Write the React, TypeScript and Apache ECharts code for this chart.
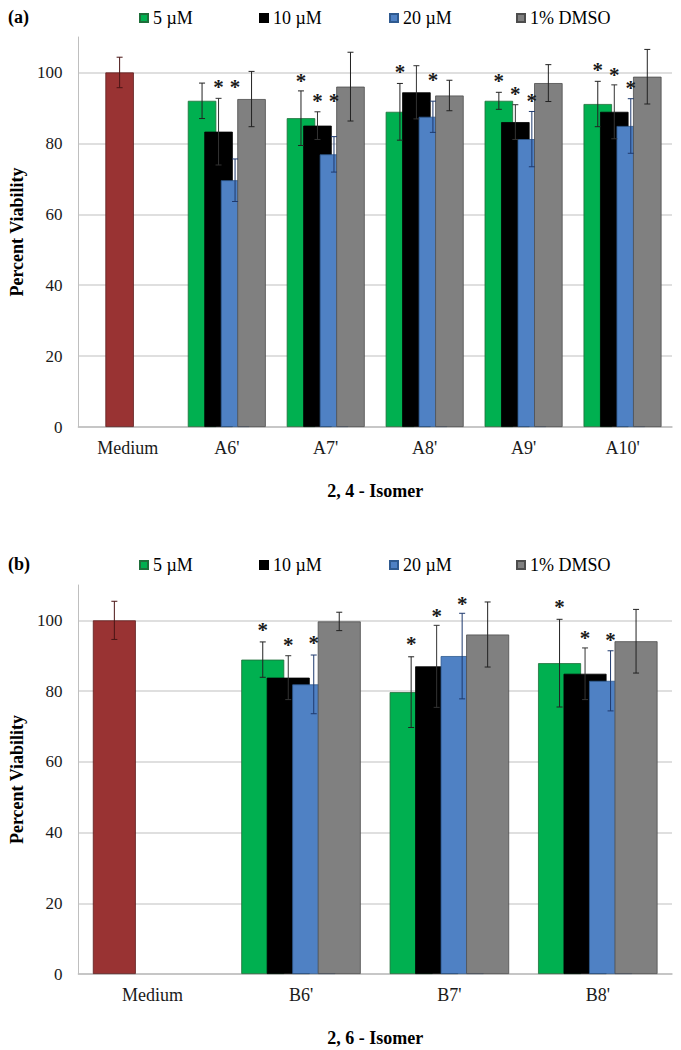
import React, { useEffect, useRef } from "react";
import * as echarts from "echarts";

// ---------- DATA ----------
const SERIES_NAMES = ["5 µM", "10 µM", "20 µM", "1% DMSO"];

// Panel (a): 2,4 - Isomer
const CATEGORIES_A = ["Medium", "A6'", "A7'", "A8'", "A9'", "A10'"];
const MEDIUM_A = 100;
const MEDIUM_A_ERR = 4.3;
const A_5UM = [null, 92.0, 87.1, 88.9, 92.0, 91.1];
const A_10UM = [null, 83.3, 85.0, 94.4, 86.0, 88.9];
const A_20UM = [null, 69.6, 76.9, 87.5, 81.2, 84.9];
const A_DMSO = [null, 92.5, 96.0, 93.5, 97.0, 98.8];
const A_5UM_ERR = [null, 5.0, 7.7, 8.0, 2.4, 6.4];
const A_10UM_ERR = [null, 9.4, 3.9, 7.5, 4.9, 7.6];
const A_20UM_ERR = [null, 6.0, 5.0, 4.4, 7.8, 7.7];
const A_DMSO_ERR = [null, 7.8, 9.7, 4.3, 5.2, 7.7];
// asterisk (significance mark) heights
const A_STAR_5UM = [null, null, 98.4, 101.0, 98.4, 101.6];
const A_STAR_10UM = [null, 96.7, 92.7, null, 94.9, 100.2];
const A_STAR_20UM = [null, 96.7, 92.7, 98.8, 92.8, 96.5];
const A_STAR_DMSO = [null, null, null, null, null, null];

// Panel (b): 2,6 - Isomer
const CATEGORIES_B = ["Medium", "B6'", "B7'", "B8'"];
const MEDIUM_B = 100;
const MEDIUM_B_ERR = 5.4;
const B_5UM = [null, 88.9, 79.7, 87.9];
const B_10UM = [null, 83.8, 87.0, 84.9];
const B_20UM = [null, 81.9, 89.9, 82.9];
const B_DMSO = [null, 99.7, 96.0, 94.1];
const B_5UM_ERR = [null, 5.0, 10.0, 12.4];
const B_10UM_ERR = [null, 6.2, 11.6, 7.3];
const B_20UM_ERR = [null, 8.3, 12.1, 8.5];
const B_DMSO_ERR = [null, 2.6, 9.2, 9.0];
const B_STAR_5UM = [null, 98.1, 94.1, 104.7];
const B_STAR_10UM = [null, 93.9, 102.1, 96.0];
const B_STAR_20UM = [null, 94.4, 105.6, 95.3];
const B_STAR_DMSO = [null, null, null, null];

const Y_TICKS_MIN = 0;
const Y_TICKS_MAX = 110;
const Y_TICK_STEP = 20;

// ---------- STYLE ----------
const FONT = '"Liberation Serif", "Times New Roman", serif';
const BAR_COLORS = ["#00b050", "#000000", "#4f81c4", "#808080"];
const BAR_BORDERS = ["#1f6e3a", "#000000", "#2f5a90", "#4d4d4d"];
const ERR_COLORS = ["#222222", "#333333", "#1f3a6e", "#222222"];
const MEDIUM_COLOR = "#993333";
const MEDIUM_BORDER = "#5e1e1e";
const MEDIUM_ERR_COLOR = "#4a1515";
const CAP = 3;
const STAR_SHIFT = 3;

type Panel = {
  cats: string[];
  values: (number | null)[][];
  errors: (number | null)[][];
  stars: (number | null)[][];
  medium: number;
  mediumErr: number;
  mediumSlot: number;
  barWidth: number;
  gapFrac: number;
  grid: { left: number; right: number; top: number; height: number };
  label: string;
  labelTop: number;
  legendTop: number;
  legendLefts: number[];
  title: string;
};

const PANELS: Panel[] = [
  {
    cats: CATEGORIES_A,
    values: [A_5UM, A_10UM, A_20UM, A_DMSO],
    errors: [A_5UM_ERR, A_10UM_ERR, A_20UM_ERR, A_DMSO_ERR],
    stars: [A_STAR_5UM, A_STAR_10UM, A_STAR_20UM, A_STAR_DMSO],
    medium: MEDIUM_A,
    mediumErr: MEDIUM_A_ERR,
    mediumSlot: 1,
    barWidth: 28.5,
    gapFrac: -0.421,
    grid: { left: 72, right: 9, top: 37, height: 390 },
    label: "(a)",
    labelTop: 8,
    legendTop: 9,
    legendLefts: [139, 259, 389, 516],
    title: "2, 4 - Isomer",
  },
  {
    cats: CATEGORIES_B,
    values: [B_5UM, B_10UM, B_20UM, B_DMSO],
    errors: [B_5UM_ERR, B_10UM_ERR, B_20UM_ERR, B_DMSO_ERR],
    stars: [B_STAR_5UM, B_STAR_10UM, B_STAR_20UM, B_STAR_DMSO],
    medium: MEDIUM_B,
    mediumErr: MEDIUM_B_ERR,
    mediumSlot: 0,
    barWidth: 43,
    gapFrac: -0.407,
    grid: { left: 72, right: 9, top: 585, height: 389 },
    label: "(b)",
    labelTop: 555,
    legendTop: 556,
    legendLefts: [139, 259, 389, 516],
    title: "2, 6 - Isomer",
  },
];

function buildOption() {
  const grids: any[] = [];
  const xAxes: any[] = [];
  const yAxes: any[] = [];
  const series: any[] = [];
  const legends: any[] = [];
  const graphics: any[] = [];

  PANELS.forEach((p, gi) => {
    grids.push({ ...p.grid, containLabel: false });
    xAxes.push({
      type: "category",
      gridIndex: gi,
      data: p.cats,
      axisTick: { show: false },
      axisLine: { lineStyle: { color: "#bfbfbf", width: 1.5 } },
      axisLabel: { color: "#1a1a1a", fontFamily: FONT, fontSize: 18, margin: 12 },
      name: p.title,
      nameLocation: "middle",
      nameGap: 55,
      nameTextStyle: { color: "#000", fontFamily: FONT, fontSize: 18, fontWeight: "bold" },
    });
    yAxes.push({
      type: "value",
      gridIndex: gi,
      min: Y_TICKS_MIN,
      max: Y_TICKS_MAX,
      interval: Y_TICK_STEP,
      axisLine: { show: true, lineStyle: { color: "#bfbfbf", width: 1 } },
      axisTick: { show: false },
      axisLabel: { color: "#1a1a1a", fontFamily: FONT, fontSize: 17, margin: 16, showMaxLabel: false },
      splitLine: { show: true, showMaxLine: false, lineStyle: { color: "#d4d4d4", width: 1.5 } },
      name: "Percent Viability",
      nameLocation: "middle",
      nameRotate: 90,
      nameGap: 48,
      nameTextStyle: { color: "#000", fontFamily: FONT, fontSize: 18, fontWeight: "bold" },
    });

    const barGap = Math.round(p.gapFrac * 1000) / 10 + "%";
    p.values.forEach((vals, s) => {
      const data = vals.map((v, i) => {
        if (i === 0 && s === p.mediumSlot) {
          return { value: p.medium, itemStyle: { color: MEDIUM_COLOR, borderColor: MEDIUM_BORDER } };
        }
        return v == null ? "-" : v;
      });
      series.push({
        type: "bar",
        name: SERIES_NAMES[s],
        xAxisIndex: gi,
        yAxisIndex: gi,
        data,
        barWidth: p.barWidth,
        barGap,
        itemStyle: { color: BAR_COLORS[s], borderColor: BAR_BORDERS[s], borderWidth: 0.8 },
        emphasis: { disabled: true },
        z: 2,
      });
    });

    const step = p.barWidth * (1 + p.gapFrac);
    const n = p.values.length;

    const errData: number[][] = [];
    errData.push([0, p.mediumSlot, p.medium - p.mediumErr, p.medium + p.mediumErr, 1]);
    p.values.forEach((vals, s) =>
      vals.forEach((v, i) => {
        const e = p.errors[s][i];
        if (v != null && e != null) errData.push([i, s, v - e, v + e, 0]);
      })
    );
    series.push({
      type: "custom",
      name: "err" + gi,
      xAxisIndex: gi,
      yAxisIndex: gi,
      data: errData,
      encode: { x: 0, y: [2, 3] },
      z: 10,
      silent: true,
      clip: false,
      renderItem: (params: any, api: any) => {
        const cat = api.value(0);
        const slot = api.value(1);
        const lo = api.coord([cat, api.value(2)]);
        const hi = api.coord([cat, api.value(3)]);
        const x = lo[0] + (slot - (n - 1) / 2) * step;
        const color = api.value(4) === 1 ? MEDIUM_ERR_COLOR : ERR_COLORS[slot];
        const style = { stroke: color, lineWidth: 1 };
        return {
          type: "group",
          children: [
            { type: "line", shape: { x1: x, y1: lo[1], x2: x, y2: hi[1] }, style },
            { type: "line", shape: { x1: x - CAP, y1: hi[1], x2: x + CAP, y2: hi[1] }, style },
            { type: "line", shape: { x1: x - CAP, y1: lo[1], x2: x + CAP, y2: lo[1] }, style },
          ],
        };
      },
    });

    const starData: number[][] = [];
    p.stars.forEach((vals, s) =>
      vals.forEach((v, i) => {
        if (v != null) starData.push([i, s, v]);
      })
    );
    series.push({
      type: "custom",
      name: "star" + gi,
      xAxisIndex: gi,
      yAxisIndex: gi,
      data: starData,
      encode: { x: 0, y: 2 },
      z: 11,
      silent: true,
      clip: false,
      renderItem: (params: any, api: any) => {
        const cat = api.value(0);
        const slot = api.value(1);
        const pt = api.coord([cat, api.value(2)]);
        const x = pt[0] + (slot - (n - 1) / 2) * step;
        return {
          type: "text",
          x,
          y: pt[1] + STAR_SHIFT,
          style: {
            text: "*",
            fill: "#1a1a1a",
            font: "bold 21px " + FONT,
            align: "center",
            verticalAlign: "middle",
          },
        };
      },
    });

    SERIES_NAMES.forEach((name, s) => {
      legends.push({
        left: p.legendLefts[s],
        top: p.legendTop,
        data: [name],
        icon: "rect",
        itemWidth: 8,
        itemHeight: 8,
        itemGap: 0,
        selectedMode: false,
        padding: 0,
        textStyle: { color: "#000", fontFamily: FONT, fontSize: 18, padding: [0, 0, 0, 0] },
      });
    });

    graphics.push({
      type: "text",
      left: 8,
      top: p.labelTop,
      style: { text: p.label, fill: "#000", font: "bold 18px " + FONT },
    });
  });

  return {
    animation: false,
    backgroundColor: "#ffffff",
    grid: grids,
    xAxis: xAxes,
    yAxis: yAxes,
    legend: legends,
    series,
    graphic: graphics,
  };
}

export default function App() {
  const ref = useRef<HTMLDivElement>(null);
  useEffect(() => {
    document.body.style.margin = "0";
    if (!ref.current) return;
    const chart = echarts.init(ref.current, undefined, { renderer: "svg" });
    chart.setOption(buildOption() as any);
    return () => chart.dispose();
  }, []);
  return <div ref={ref} style={{ width: 681, height: 1050 }} />;
}
